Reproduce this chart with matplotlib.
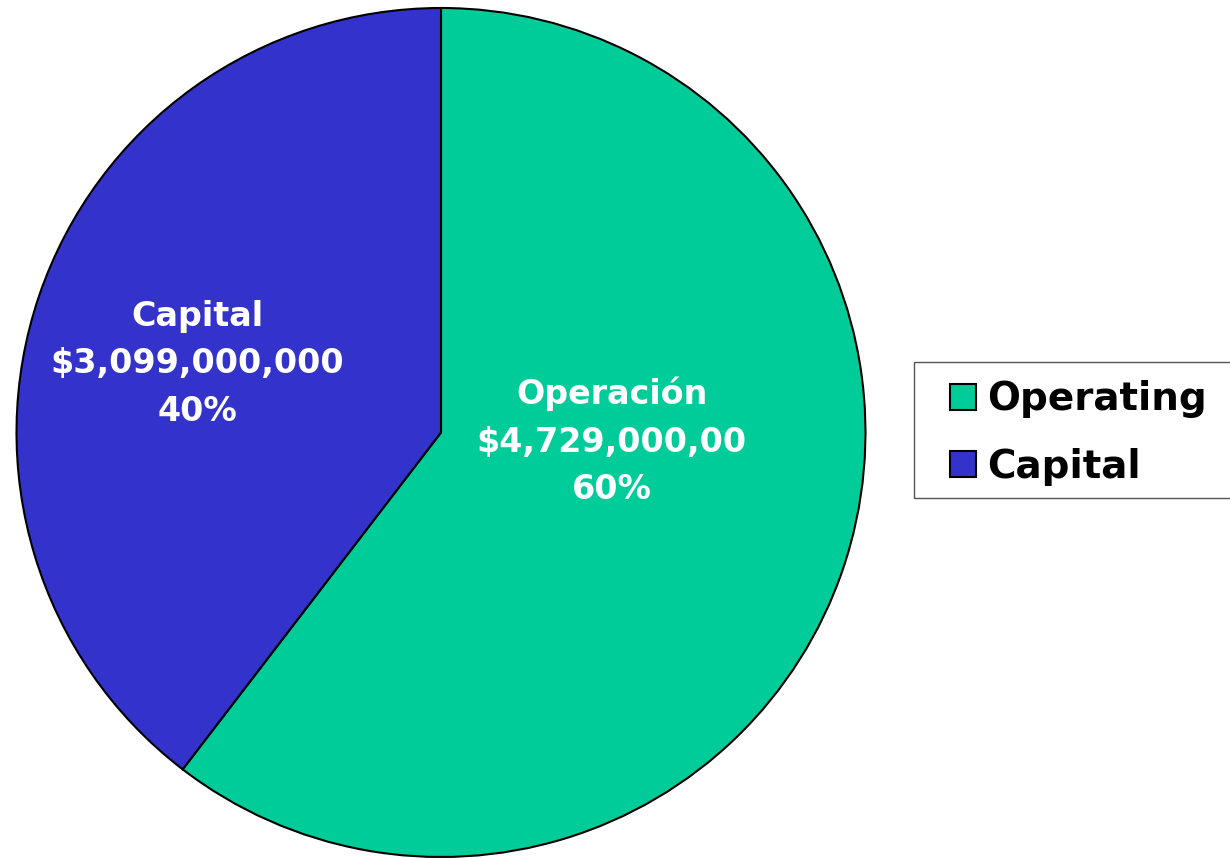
import matplotlib.pyplot as plt
from matplotlib.patches import Rectangle

# Datos del gráfico
categorias = ['Operating', 'Capital']
etiquetas = ['Operación', 'Capital']
montos = [4729000000, 3099000000]
montos_texto = ['$4,729,000,00', '$3,099,000,000']
colores = ['#00CC99', '#3333CC']

fig = plt.figure(figsize=(12.3, 8.58), dpi=100)
ax = fig.add_axes([16 / 1230, 1 / 858, 850 / 1230, 849 / 858])

wedges, _, autotexts = ax.pie(montos, colors=colores, startangle=90, counterclock=False,
                              autopct='%.0f%%', pctdistance=0.5,
                              wedgeprops={'edgecolor': 'black', 'linewidth': 1.5})
ax.set_xlim(-1, 1)
ax.set_ylim(-1, 1)
ax.set_aspect('equal')

# Posiciones de las etiquetas dentro de cada sector
posiciones = [(0.402, -0.021), (-0.574, 0.162)]
for t, nombre, monto, pos in zip(autotexts, etiquetas, montos_texto, posiciones):
    t.set_text(f'{nombre}\n{monto}\n{t.get_text()}')
    t.set_position(pos)
    t.set_color('white')
    t.set_fontsize(24)
    t.set_fontweight('bold')
    t.set_linespacing(1.55)
    t.set_ha('center')
    t.set_va('center')

# Leyenda sin marco; el marco se dibuja aparte (sale por el borde derecho)
leg = fig.legend(wedges, categorias, loc='center left', bbox_to_anchor=(929 / 1230, 425 / 858),
                 borderaxespad=0, prop={'weight': 'bold', 'size': 28}, frameon=False,
                 handlelength=0.65, handleheight=0.65,
                 handletextpad=0.3, labelspacing=0.75, borderpad=0.55)
fig.patches.append(Rectangle((914 / 1230, (858 - 498) / 858), 330 / 1230, 136 / 858,
                             transform=fig.transFigure, facecolor='none',
                             edgecolor='#555555', linewidth=1.0))

fig.savefig('out.png', dpi=100)
